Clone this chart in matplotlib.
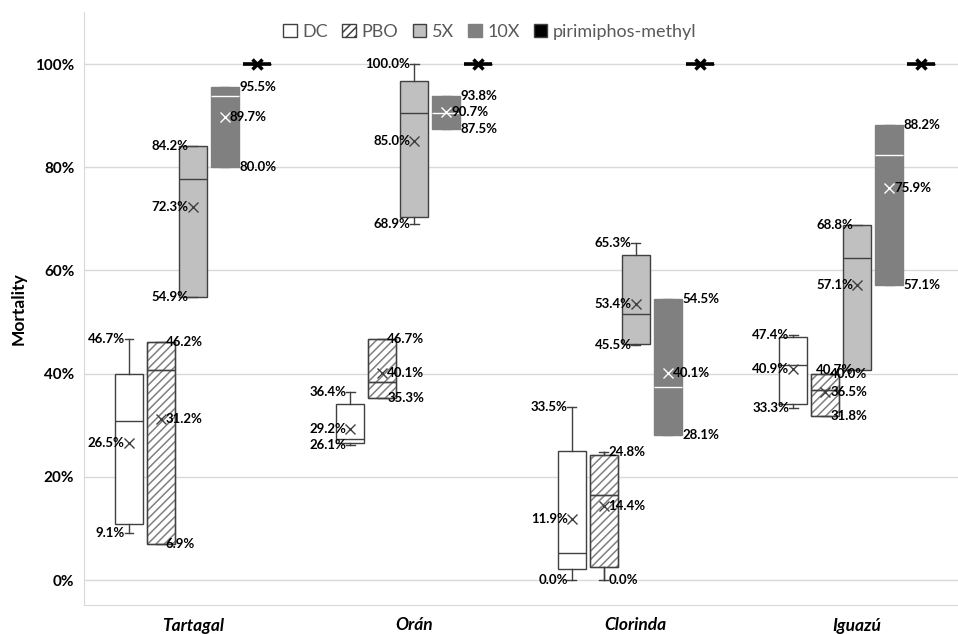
import matplotlib
matplotlib.use("Agg")
import matplotlib.pyplot as plt
from matplotlib.patches import Patch

sites = ["Tartagal", "Orán", "Clorinda", "Iguazú"]
series = ["DC", "PBO", "5X", "10X", "pirimiphos-methyl"]

# one row per series, one value per site (fractions)
whisk_lo = [[0.091, 0.261, 0.000, 0.333],
            [0.069, 0.353, 0.000, 0.318],
            [0.549, 0.689, 0.455, 0.407],
            [0.800, 0.875, 0.281, 0.571],
            [1.0, 1.0, 1.0, 1.0]]
q1 = [[0.108, 0.265, 0.021, 0.342],
      [0.069, 0.353, 0.026, 0.318],
      [0.549, 0.704, 0.458, 0.407],
      [0.800, 0.875, 0.281, 0.571],
      [1.0, 1.0, 1.0, 1.0]]
median = [[0.308, 0.273, 0.053, 0.416],
          [0.407, 0.384, 0.164, 0.368],
          [0.778, 0.906, 0.515, 0.625],
          [0.938, 0.906, 0.375, 0.823],
          [1.0, 1.0, 1.0, 1.0]]
q3 = [[0.400, 0.341, 0.251, 0.470],
      [0.462, 0.467, 0.242, 0.400],
      [0.842, 0.968, 0.630, 0.688],
      [0.955, 0.938, 0.545, 0.882],
      [1.0, 1.0, 1.0, 1.0]]
whisk_hi = [[0.467, 0.364, 0.335, 0.474],
            [0.462, 0.467, 0.248, 0.400],
            [0.842, 1.000, 0.653, 0.688],
            [0.955, 0.938, 0.545, 0.882],
            [1.0, 1.0, 1.0, 1.0]]
means = [[0.265, 0.292, 0.119, 0.409],
         [0.312, 0.401, 0.144, 0.365],
         [0.723, 0.850, 0.534, 0.571],
         [0.897, 0.907, 0.401, 0.759],
         [1.0, 1.0, 1.0, 1.0]]

dark = "#404040"
styles = [
    dict(face="white", edge=dark, med=dark, mean=dark, cap=dark, hatch=None),
    dict(face="white", edge="#808080", med=dark, mean=dark, cap=dark, hatch="////"),
    dict(face="#c0c0c0", edge=dark, med=dark, mean=dark, cap=dark, hatch=None),
    dict(face="#808080", edge="#808080", med="white", mean="white", cap="#808080", hatch=None),
    dict(face="black", edge="black", med="black", mean="black", cap="black", hatch=None),
]

plt.rcParams["hatch.linewidth"] = 1.1
plt.rcParams["font.family"] = ["Lato", "DejaVu Sans"]

fig = plt.figure(figsize=(9.58, 6.34), dpi=100)
ax = fig.add_axes([84 / 958, 29 / 634, 874 / 958, 593 / 634])

step = 0.1444
width = 0.127
for s in range(len(series)):
    st = styles[s]
    stats = []
    for i in range(len(sites)):
        stats.append(dict(whislo=whisk_lo[s][i], q1=q1[s][i], med=median[s][i],
                          q3=q3[s][i], whishi=whisk_hi[s][i], mean=means[s][i], fliers=[]))
    pos = [i + (s - 2) * step for i in range(len(sites))]
    lw = 2.6 if s == 4 else 1.0
    bp = ax.bxp(stats, positions=pos, widths=width, capwidths=0.04, patch_artist=True,
                showmeans=True, showfliers=False, manage_ticks=False,
                boxprops=dict(facecolor=st["face"], edgecolor=st["edge"], linewidth=lw),
                whiskerprops=dict(color=dark, linewidth=1.0),
                capprops=dict(color=st["cap"], linewidth=1.0),
                medianprops=dict(color=st["med"], linewidth=1.0),
                meanprops=dict(marker="x", markeredgecolor=st["mean"], markersize=7,
                               markeredgewidth=1.0 if s < 4 else 2.5, zorder=5))
    if st["hatch"]:
        for b in bp["boxes"]:
            b.set_hatch(st["hatch"])
        # dark outline on top of the hatched boxes
        ax.bxp(stats, positions=pos, widths=width, capwidths=0.04, patch_artist=True,
               showfliers=False, manage_ticks=False, showcaps=False,
               boxprops=dict(facecolor="none", edgecolor=dark, linewidth=1.0),
               whiskerprops=dict(color=dark, linewidth=1.0),
               medianprops=dict(color=dark, linewidth=1.0))

    if s == 4:
        continue
    # data labels
    for i in range(len(sites)):
        x = pos[i]
        for v, kind in [(whisk_hi[s][i], "end"), (means[s][i], "mean"), (whisk_lo[s][i], "end")]:
            if s in (0, 2):
                dx, ha = -3, "right"
            elif s == 1:
                dx, ha = 3.5, "left"
            else:
                dx, ha = (3.5 if kind == "mean" else 10.5), "left"
            ax.annotate(f"{v * 100:.1f}%", (x, v), xytext=(dx, 0), textcoords="offset points",
                        ha=ha, va="center", fontsize=9.5, fontweight="bold", color="black",
                        zorder=6)

ax.set_xlim(-0.4917, 3.4549)
ax.set_ylim(-0.0484, 1.1008)
ax.set_yticks([0, 0.2, 0.4, 0.6, 0.8, 1.0])
ax.set_yticklabels([f"{int(t * 100)}%" for t in [0, 0.2, 0.4, 0.6, 0.8, 1.0]],
                   fontsize=11, fontweight="bold")
ax.set_xticks(range(len(sites)))
ax.set_xticklabels(sites, fontsize=12.5, fontweight="bold", fontstyle="italic")
ax.tick_params(axis="both", length=0)
ax.tick_params(axis="y", pad=7)
ax.tick_params(axis="x", pad=9)
ax.set_ylabel("Mortality", fontsize=12.5, fontweight="bold", labelpad=6)
ax.grid(axis="y", color="#d9d9d9", linewidth=1.0)
ax.set_axisbelow(True)
for side in ["top", "right"]:
    ax.spines[side].set_visible(False)
for side in ["left", "bottom"]:
    ax.spines[side].set_color("#d9d9d9")

handles = []
for s in range(len(series)):
    st = styles[s]
    handles.append(Patch(facecolor=st["face"], edgecolor=dark if s != 3 else st["edge"],
                         hatch=st["hatch"], linewidth=1.0, label=series[s]))
ax.legend(handles=handles, loc="center", bbox_to_anchor=(0.4645, 0.966), ncol=5,
          frameon=False, handlelength=0.75, handleheight=0.75, handletextpad=0.3,
          columnspacing=0.8, prop=dict(size=13), labelcolor="#595959")

fig.savefig("out.png", dpi=100)
